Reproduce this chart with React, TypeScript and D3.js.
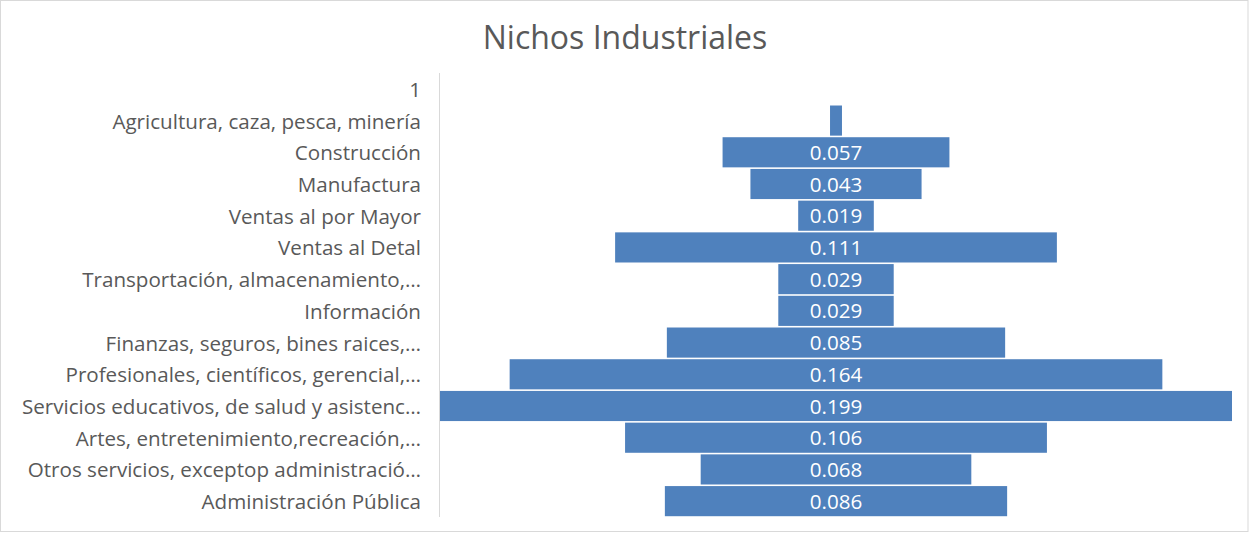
import * as d3 from "d3";

const categories = [
  "1",
  "Agricultura, caza, pesca, minería",
  "Construcción",
  "Manufactura",
  "Ventas al por Mayor",
  "Ventas al Detal",
  "Transportación, almacenamiento,…",
  "Información",
  "Finanzas, seguros, bines raices,…",
  "Profesionales, científicos, gerencial,…",
  "Servicios educativos, de salud y asistenc…",
  "Artes, entretenimiento,recreación,…",
  "Otros servicios, exceptop administració…",
  "Administración Pública",
];
const values: (number | null)[] = [
  null, 0.003, 0.057, 0.043, 0.019, 0.111, 0.029, 0.029, 0.085, 0.164, 0.199,
  0.106, 0.068, 0.086,
];
const labelled = [false, false, true, true, true, true, true, true, true, true, true, true, true, true];

const width = 1249;
const height = 533;
const plot = { left: 440, right: 1232, top: 73, bottom: 517 };
const center = (plot.left + plot.right) / 2;
const font = "'Open Sans', 'Noto Sans', sans-serif";

const App = () => {
  const y = d3
    .scaleBand<string>()
    .domain(categories)
    .range([plot.top, plot.bottom])
    .paddingInner(0.05)
    .paddingOuter(0.025);
  const maxV = d3.max(values, (v) => v ?? 0) ?? 1;
  // half-width of a bar
  const w = d3.scaleLinear().domain([0, maxV]).range([0, (plot.right - plot.left) / 2]);

  return (
    <div style={{ position: "fixed", left: 0, top: 0 }}>
      <svg width={width} height={height} style={{ display: "block" }}>
        <rect x={0} y={0} width={width} height={height} fill="#fff" />
        <rect x={0.5} y={0.5} width={1247.5} height={531} fill="none" stroke="#d9d9d9" />
        <text
          x={625}
          y={49}
          textAnchor="middle"
          fontFamily={font}
          fontSize={32}
          fill="#595959"
        >
          Nichos Industriales
        </text>
        {categories.map((c, i) => {
          const v = values[i];
          const yy = y(c)!;
          const cy = yy + y.bandwidth() / 2;
          return (
            <g key={c}>
              <text
                x={421}
                y={cy + 8}
                textAnchor="end"
                fontFamily={font}
                fontSize={20.6}
                fill="#595959"
              >
                {c}
              </text>
              {v != null && (
                <rect
                  x={center - w(v)}
                  y={yy}
                  width={w(v) * 2}
                  height={y.bandwidth()}
                  fill="#4f81bd"
                />
              )}
              {v != null && labelled[i] && (
                <text
                  x={center}
                  y={cy + 7.5}
                  textAnchor="middle"
                  fontFamily={font}
                  fontSize={20.6}
                  fill="#fff"
                >
                  {v.toFixed(3)}
                </text>
              )}
            </g>
          );
        })}
        <line x1={439.5} x2={439.5} y1={plot.top} y2={plot.bottom} stroke="#d9d9d9" strokeWidth={1} />
      </svg>
    </div>
  );
};

export default App;
